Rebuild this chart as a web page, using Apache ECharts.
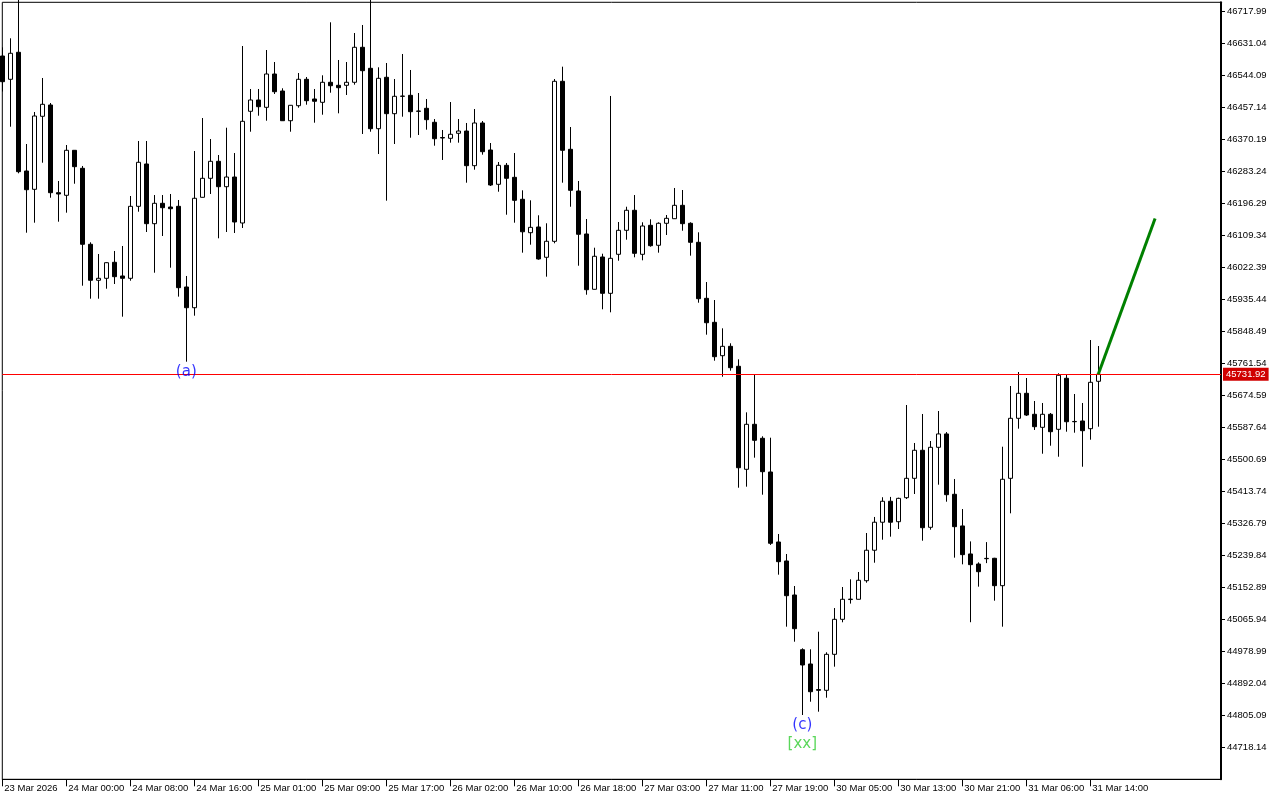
<!DOCTYPE html>
<html><head><meta charset="utf-8">
<script src="https://cdn.jsdelivr.net/npm/echarts@6/dist/echarts.min.js"></script>
<style>html,body{margin:0;padding:0;background:#fff}#c{width:1280px;height:800px}</style>
</head><body><div id="c"></div>
<script>
// ---- data (hourly bars, index 0 = 23 Mar 2026 16:00) ----
const opens = [46596.5,46533.2,46606.6,46284.1,46234.3,46432.7,46463.4,46225.1,46218.0,46340.3,
46291.4,46084.9,45987.1,45992.5,46036.0,45998.8,45992.5,46188.1,46303.1,46140.9,
46196.3,46186.2,46188.1,45968.9,45912.6,46212.6,46264.2,46310.4,46241.4,46267.7,
46142.8,46446.3,46477.0,46457.1,46547.6,46501.4,46420.7,46461.5,46533.2,46479.7,
46470.7,46525.1,46516.9,46516.9,46525.1,46620.2,46563.1,46399.0,46538.7,46439.8,
46487.6,46489.7,46447.0,46454.4,46416.4,46375.0,46372.9,46386.5,46392.7,46298.5,
46414.5,46341.1,46247.9,46299.5,46266.9,46207.2,46116.4,46131.9,46049.6,46093.0,
46527.8,46343.0,46229.7,46112.9,45962.6,46050.4,45951.7,46057.7,46122.9,46177.3,
46057.7,46136.5,46082.2,46142.0,46154.4,46190.8,46142.0,46090.3,45938.1,45872.9,
45782.2,45807.7,45753.4,45473.5,45595.8,45557.8,45466.2,45276.0,45224.4,45132.0,
44983.3,44944.5,44875.0,44873.0,44970.8,45065.9,45119.6,45120.3,45170.8,45253.6,
45329.7,45386.7,45331.1,45396.4,45449.0,45525.2,45315.9,45533.3,45569.6,45405.6,
45319.6,45243.5,45216.2,45230.6,45231.7,45157.3,45449.0,45612.1,45680.0,45623.0,
45587.6,45623.0,45582.2,45720.8,45603.5,45604.8,45583.9,45712.6];
const closes = [46526.7,46603.9,46282.2,46233.2,46433.5,46465.3,46225.1,46221.6,46340.3,46295.8,
46084.9,45987.1,45992.5,46034.9,45996.9,45992.5,46188.1,46307.7,46140.9,46196.3,
46184.3,46181.6,45967.0,45912.6,46209.9,46264.2,46310.4,46241.4,46267.7,46145.5,
46419.1,46477.0,46458.8,46547.6,46499.5,46420.7,46462.6,46533.2,46475.1,46473.5,
46525.1,46515.8,46510.4,46525.1,46620.2,46556.6,46399.0,46535.9,46439.8,46487.0,
46487.0,46445.2,46446.3,46423.5,46371.8,46373.7,46383.8,46392.7,46298.5,46414.5,
46336.5,46246.0,46299.5,46264.2,46204.4,46118.9,46131.0,46045.0,46093.1,46527.8,
46340.3,46231.6,46112.1,45961.5,46052.3,45951.7,46046.8,46122.9,46177.3,46060.4,
46134.6,46081.1,46142.0,46155.5,46190.8,46140.9,46090.3,45937.1,45871.8,45779.5,
45807.7,45749.6,45477.8,45595.8,45552.3,45467.0,45272.5,45222.5,45130.1,45040.4,
44941.8,44869.2,44873.0,44970.8,45065.9,45120.3,45120.8,45172.0,45253.6,45329.7,
45386.7,45329.7,45394.6,45449.0,45525.2,45314.8,45533.3,45569.6,45404.5,45317.6,
45241.6,45214.4,45195.3,45231.5,45157.3,45446.4,45612.1,45680.0,45621.0,45589.3,
45623.0,45575.7,45729.0,45602.8,45602.8,45578.4,45709.9,45731.92];
const lows = [46500.0,46404.4,46277.8,46116.4,46143.6,46306.6,46211.5,46146.3,46170.8,46249.5,
45972.4,45937.1,45937.1,45964.2,45977.0,45888.2,45986.0,46173.5,46118.3,46007.7,
46107.4,46021.3,45942.7,45765.9,45890.9,46212.0,46221.6,46101.2,46118.3,46115.6,
46129.2,46390.8,46434.3,46420.7,46493.3,46420.0,46390.8,46456.1,46464.2,46415.3,
46437.0,46496.8,46440.8,46490.6,46518.6,46384.6,46390.8,46330.2,46203.4,46357.4,
46431.6,46374.5,46381.9,46396.3,46352.8,46314.0,46361.0,46361.0,46252.3,46287.6,
46328.4,46243.3,46227.8,46165.3,46143.6,46062.1,46083.8,46043.0,45996.9,46087.6,
46252.3,46187.0,46026.7,45947.9,45962.0,45908.3,45900.1,46040.3,46097.4,46049.6,
46041.4,46078.4,46062.1,46110.2,46154.0,46121.8,46054.0,45926.2,45839.3,45768.6,
45725.1,45741.5,45423.5,45426.3,45505.1,45404.5,45268.0,45187.2,45045.9,45005.1,
44805.9,44842.0,44814.9,44852.9,44937.2,45057.8,45108.6,45120.0,45165.4,45219.7,
45282.2,45290.5,45311.3,45392.8,45406.4,45279.5,45309.4,45431.7,45385.5,45233.4,
45215.3,45058.0,45154.6,45218.6,45116.5,45045.9,45353.9,45583.9,45618.4,45580.4,
45515.9,45537.6,45507.7,45575.7,45573.0,45480.5,45553.9,45589.3];
const highs = [46620.0,46644.6,46760.0,46357.4,46444.4,46536.8,46468.8,46256.9,46354.7,46341.0,
46297.7,46090.3,46058.5,46036.0,46066.7,46080.3,46216.1,46365.6,46365.6,46218.8,
46218.8,46221.6,46205.3,45998.8,46338.4,46428.0,46371.0,46327.5,46401.7,46332.9,
46623.7,46506.9,46506.9,46612.8,46580.2,46508.8,46463.0,46550.3,46539.5,46506.9,
46544.1,46688.1,46585.7,46580.2,46659.0,46680.8,46760.0,46565.8,46577.5,46534.0,
46602.0,46558.5,46496.0,46479.7,46425.3,46395.5,46471.5,46425.3,46414.5,46452.5,
46419.9,46360.1,46308.5,46305.8,46332.9,46231.6,46204.4,46163.7,46142.0,46534.0,
46567.5,46403.6,46256.9,46153.6,46075.6,46059.3,46487.9,46145.5,46187.0,46218.8,
46144.7,46152.8,46144.7,46164.5,46237.9,46232.4,46144.7,46117.5,45982.4,45933.5,
45856.6,45815.9,45772.4,45628.3,45731.6,45563.2,45559.4,45297.7,45243.4,45156.4,
44987.1,44984.4,45032.2,44976.3,45096.6,45153.7,45174.6,45194.5,45300.4,45344.0,
45397.6,45398.5,45396.4,45648.2,45545.0,45623.8,45550.4,45631.9,45574.7,45447.2,
45365.6,45277.6,45220.7,45275.7,45233.0,45534.9,45699.9,45737.9,45721.6,45659.1,
45653.7,45626.5,45734.4,45731.6,45678.1,45653.7,45824.8,45808.5];
// x tick labels, one every 8 bars
const timeLabels = ['23 Mar 2026','24 Mar 00:00','24 Mar 08:00','24 Mar 16:00','25 Mar 01:00',
'25 Mar 09:00','25 Mar 17:00','26 Mar 02:00','26 Mar 10:00','26 Mar 18:00','27 Mar 03:00',
'27 Mar 11:00','27 Mar 19:00','30 Mar 05:00','30 Mar 13:00','30 Mar 21:00','31 Mar 06:00','31 Mar 14:00'];
const labelStep = 8;
// y tick values: 44718.14 ... 46717.99 step 86.95
const yTickMin = 44631.19, yTickStep = 86.95, yMax = 46742.45;
const xMax = 152.34;
const currentPrice = 45731.92;
const projection = [[137, 45731.92], [144.1, 46155.0]];
const waveBars = [23, 100];
const wavePrices = [45765.9, 44805.9];
const waveTexts = ['{a|(a)}', '{a|(c)}\n{b|[xx]}'];

const candles = opens.map((o, i) => [i, o, closes[i], lows[i], highs[i]]);
const xTickValues = timeLabels.map((_, k) => k * labelStep);
const axisFont = 'Liberation Sans';

const chart = echarts.init(document.getElementById('c'), null, {renderer: 'canvas'});
chart.setOption({
  animation: false,
  backgroundColor: '#ffffff',
  grid: {left: 2.3, top: 2.3, right: 59, bottom: 20.7, show: true,
         borderColor: '#000', borderWidth: 1, backgroundColor: 'transparent'},
  xAxis: {
    type: 'value', min: 0, max: xMax,
    splitLine: {show: false},
    axisLine: {show: true, onZero: false, lineStyle: {color: '#000', width: 1}},
    axisTick: {show: true, length: 7, lineStyle: {color: '#000'}, customValues: xTickValues},
    axisLabel: {
      show: true, margin: 4, align: 'left', color: '#000', fontFamily: axisFont, fontSize: 9.5,
      padding: [0, 0, 0, 2], customValues: xTickValues,
      formatter: v => {
        const k = Math.round(v / labelStep);
        return timeLabels[k] || '';
      }
    }
  },
  yAxis: {
    type: 'value', position: 'right', min: yTickMin, max: yMax, interval: yTickStep,
    splitLine: {show: false},
    axisLine: {show: true, onZero: false, lineStyle: {color: '#000', width: 2}},
    axisTick: {show: true, length: 4, lineStyle: {color: '#000'}},
    axisLabel: {margin: 6, color: '#000', fontFamily: axisFont, fontSize: 9.5,
      showMinLabel: false, showMaxLabel: false, formatter: v => v.toFixed(2)}
  },
  series: [
    {
      type: 'candlestick', data: candles, barWidth: 4, clip: true,
      itemStyle: {color: '#ffffff', color0: '#000000', borderColor: '#000000',
                  borderColor0: '#000000', borderColorDoji: '#000000', borderWidth: 1},
      emphasis: {disabled: true},
      markLine: {
        symbol: 'none', silent: true, animation: false,
        data: [{yAxis: currentPrice}],
        lineStyle: {color: '#ff0000', width: 1, type: 'solid'},
        label: {show: true, position: 'end', distance: 2, formatter: currentPrice.toFixed(2),
                color: '#ffffff', backgroundColor: '#d00000', padding: [2, 3, 1, 3],
                fontFamily: axisFont, fontSize: 9.5}
      },
      z: 2
    },
    {
      type: 'line', data: projection, symbol: 'none', silent: true,
      lineStyle: {color: '#008000', width: 3}, z: 5
    },
    {
      type: 'scatter', symbolSize: 0, silent: true, z: 6,
      data: waveBars.map((b, i) => ({value: [b, wavePrices[i]],
        label: {show: true, position: 'bottom', distance: 1, formatter: waveTexts[i],
          rich: {a: {color: '#0000ff', fontFamily: 'DejaVu Sans', fontSize: 15, lineHeight: 18},
                 b: {color: '#32cd32', fontFamily: 'DejaVu Sans', fontSize: 15, lineHeight: 20}}}}))
    }
  ]
});
</script></body></html>
